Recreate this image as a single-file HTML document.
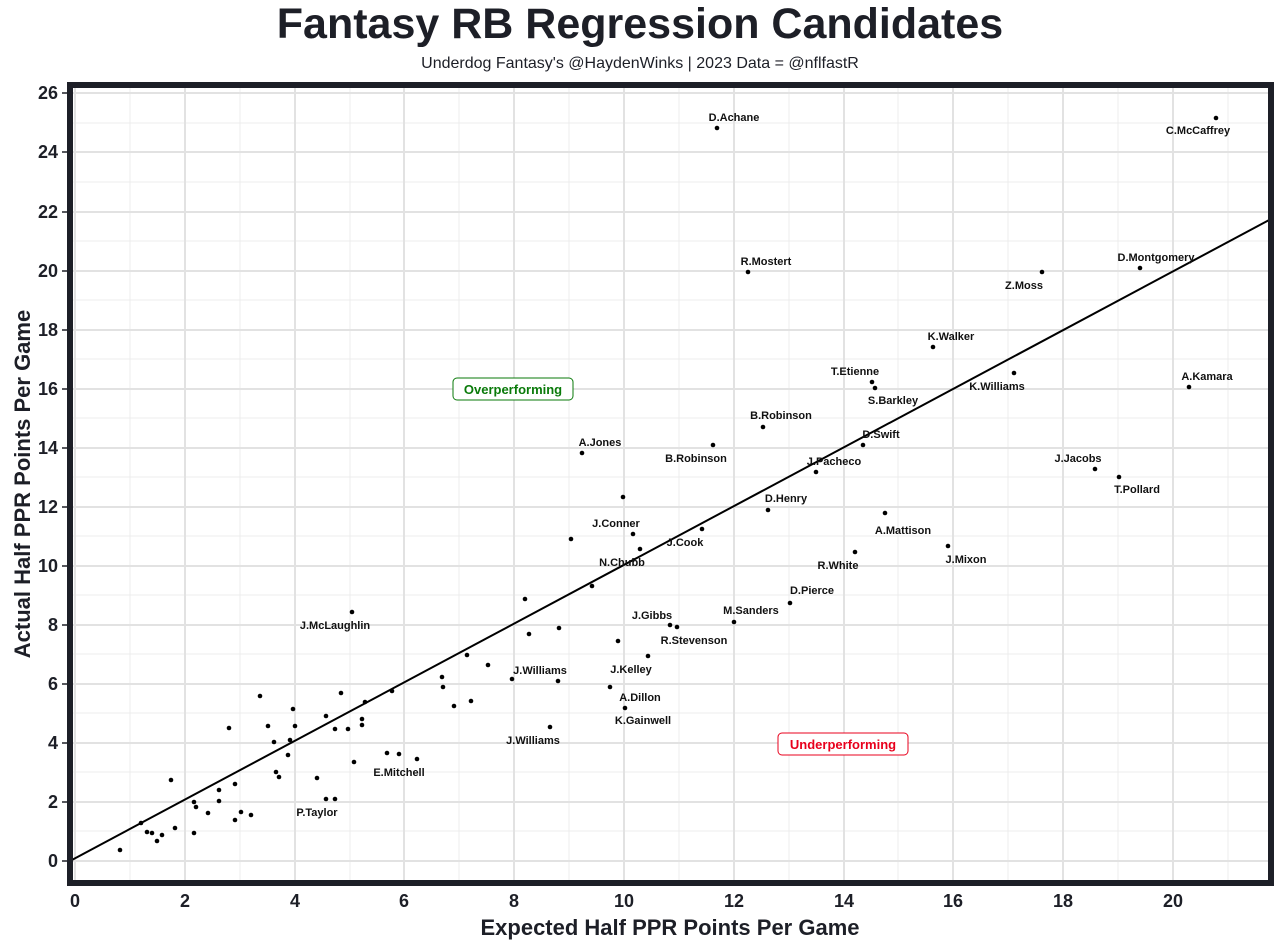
<!DOCTYPE html>
<html><head><meta charset="utf-8"><style>
html,body{margin:0;padding:0;background:#fff;}
svg{display:block;font-family:"Liberation Sans",Arial,sans-serif;}
</style></head><body>
<svg width="1280" height="949" viewBox="0 0 1280 949" xmlns="http://www.w3.org/2000/svg">
<rect width="1280" height="949" fill="#fff"/>
<text x="640" y="38" text-anchor="middle" font-size="43" font-weight="bold" fill="#1d1f27">Fantasy RB Regression Candidates</text>
<text x="640" y="68" text-anchor="middle" font-size="16" fill="#1d1f27">Underdog Fantasy's @HaydenWinks | 2023 Data = @nflfastR</text>
<g stroke="#ececec" stroke-width="1">
<line x1="130" y1="85" x2="130" y2="883"/><line x1="240" y1="85" x2="240" y2="883"/><line x1="350" y1="85" x2="350" y2="883"/><line x1="459" y1="85" x2="459" y2="883"/><line x1="569" y1="85" x2="569" y2="883"/><line x1="679" y1="85" x2="679" y2="883"/><line x1="789" y1="85" x2="789" y2="883"/><line x1="898" y1="85" x2="898" y2="883"/><line x1="1008" y1="85" x2="1008" y2="883"/><line x1="1118" y1="85" x2="1118" y2="883"/><line x1="1228" y1="85" x2="1228" y2="883"/>
<line x1="70" y1="831" x2="1271" y2="831"/><line x1="70" y1="772" x2="1271" y2="772"/><line x1="70" y1="713" x2="1271" y2="713"/><line x1="70" y1="654" x2="1271" y2="654"/><line x1="70" y1="595" x2="1271" y2="595"/><line x1="70" y1="536" x2="1271" y2="536"/><line x1="70" y1="477" x2="1271" y2="477"/><line x1="70" y1="418" x2="1271" y2="418"/><line x1="70" y1="359" x2="1271" y2="359"/><line x1="70" y1="300" x2="1271" y2="300"/><line x1="70" y1="241" x2="1271" y2="241"/><line x1="70" y1="182" x2="1271" y2="182"/><line x1="70" y1="123" x2="1271" y2="123"/>
</g>
<g stroke="#e2e2e2" stroke-width="2">
<line x1="75" y1="85" x2="75" y2="883"/><line x1="185" y1="85" x2="185" y2="883"/><line x1="295" y1="85" x2="295" y2="883"/><line x1="404" y1="85" x2="404" y2="883"/><line x1="514" y1="85" x2="514" y2="883"/><line x1="624" y1="85" x2="624" y2="883"/><line x1="734" y1="85" x2="734" y2="883"/><line x1="844" y1="85" x2="844" y2="883"/><line x1="953" y1="85" x2="953" y2="883"/><line x1="1063" y1="85" x2="1063" y2="883"/><line x1="1173" y1="85" x2="1173" y2="883"/>
<line x1="70" y1="861" x2="1271" y2="861"/><line x1="70" y1="802" x2="1271" y2="802"/><line x1="70" y1="743" x2="1271" y2="743"/><line x1="70" y1="684" x2="1271" y2="684"/><line x1="70" y1="625" x2="1271" y2="625"/><line x1="70" y1="566" x2="1271" y2="566"/><line x1="70" y1="507" x2="1271" y2="507"/><line x1="70" y1="448" x2="1271" y2="448"/><line x1="70" y1="389" x2="1271" y2="389"/><line x1="70" y1="330" x2="1271" y2="330"/><line x1="70" y1="271" x2="1271" y2="271"/><line x1="70" y1="212" x2="1271" y2="212"/><line x1="70" y1="152" x2="1271" y2="152"/><line x1="70" y1="93" x2="1271" y2="93"/>
</g>
<line x1="70" y1="861" x2="1271" y2="219" stroke="#000" stroke-width="2"/>
<g fill="#000">
<circle cx="120" cy="850" r="2.3"/><circle cx="141" cy="823" r="2.3"/><circle cx="147" cy="832" r="2.3"/><circle cx="152" cy="833" r="2.3"/><circle cx="157" cy="841" r="2.3"/><circle cx="162" cy="835" r="2.3"/><circle cx="175" cy="828" r="2.3"/><circle cx="171" cy="780" r="2.3"/><circle cx="194" cy="802" r="2.3"/><circle cx="194" cy="833" r="2.3"/><circle cx="196" cy="807" r="2.3"/><circle cx="208" cy="813" r="2.3"/><circle cx="219" cy="801" r="2.3"/><circle cx="219" cy="790" r="2.3"/><circle cx="229" cy="728" r="2.3"/><circle cx="235" cy="784" r="2.3"/><circle cx="235" cy="820" r="2.3"/><circle cx="241" cy="812" r="2.3"/><circle cx="251" cy="815" r="2.3"/><circle cx="260" cy="696" r="2.3"/><circle cx="268" cy="726" r="2.3"/><circle cx="274" cy="742" r="2.3"/><circle cx="276" cy="772" r="2.3"/><circle cx="279" cy="777" r="2.3"/><circle cx="288" cy="755" r="2.3"/><circle cx="290" cy="740" r="2.3"/><circle cx="293" cy="709" r="2.3"/><circle cx="295" cy="726" r="2.3"/><circle cx="317" cy="778" r="2.3"/><circle cx="326" cy="799" r="2.3"/><circle cx="326" cy="716" r="2.3"/><circle cx="335" cy="729" r="2.3"/><circle cx="335" cy="799" r="2.3"/><circle cx="341" cy="693" r="2.3"/><circle cx="348" cy="729" r="2.3"/><circle cx="362" cy="719" r="2.3"/><circle cx="362" cy="725" r="2.3"/><circle cx="365" cy="702" r="2.3"/><circle cx="352" cy="612" r="2.3"/><circle cx="354" cy="762" r="2.3"/><circle cx="392" cy="691" r="2.3"/><circle cx="387" cy="753" r="2.3"/><circle cx="399" cy="754" r="2.3"/><circle cx="417" cy="759" r="2.3"/><circle cx="442" cy="677" r="2.3"/><circle cx="443" cy="687" r="2.3"/><circle cx="454" cy="706" r="2.3"/><circle cx="467" cy="655" r="2.3"/><circle cx="471" cy="701" r="2.3"/><circle cx="488" cy="665" r="2.3"/><circle cx="512" cy="679" r="2.3"/><circle cx="525" cy="599" r="2.3"/><circle cx="529" cy="634" r="2.3"/><circle cx="558" cy="681" r="2.3"/><circle cx="559" cy="628" r="2.3"/><circle cx="550" cy="727" r="2.3"/><circle cx="571" cy="539" r="2.3"/><circle cx="592" cy="586" r="2.3"/><circle cx="582" cy="453" r="2.3"/><circle cx="610" cy="687" r="2.3"/><circle cx="618" cy="641" r="2.3"/><circle cx="623" cy="497" r="2.3"/><circle cx="625" cy="708" r="2.3"/><circle cx="633" cy="534" r="2.3"/><circle cx="640" cy="549" r="2.3"/><circle cx="648" cy="656" r="2.3"/><circle cx="670" cy="625" r="2.3"/><circle cx="677" cy="627" r="2.3"/><circle cx="702" cy="529" r="2.3"/><circle cx="713" cy="445" r="2.3"/><circle cx="717" cy="128" r="2.3"/><circle cx="734" cy="622" r="2.3"/><circle cx="748" cy="272" r="2.3"/><circle cx="763" cy="427" r="2.3"/><circle cx="768" cy="510" r="2.3"/><circle cx="790" cy="603" r="2.3"/><circle cx="816" cy="472" r="2.3"/><circle cx="855" cy="552" r="2.3"/><circle cx="863" cy="445" r="2.3"/><circle cx="872" cy="382" r="2.3"/><circle cx="875" cy="388" r="2.3"/><circle cx="885" cy="513" r="2.3"/><circle cx="933" cy="347" r="2.3"/><circle cx="948" cy="546" r="2.3"/><circle cx="1014" cy="373" r="2.3"/><circle cx="1042" cy="272" r="2.3"/><circle cx="1095" cy="469" r="2.3"/><circle cx="1119" cy="477" r="2.3"/><circle cx="1140" cy="268" r="2.3"/><circle cx="1189" cy="387" r="2.3"/><circle cx="1216" cy="118" r="2.3"/>
</g>
<g font-size="11" font-weight="bold" fill="#111" text-anchor="middle">
<text x="734" y="121">D.Achane</text><text x="1198" y="134">C.McCaffrey</text><text x="766" y="265">R.Mostert</text><text x="1024" y="289">Z.Moss</text><text x="1156" y="261">D.Montgomery</text><text x="951" y="340">K.Walker</text><text x="855" y="375">T.Etienne</text><text x="893" y="404">S.Barkley</text><text x="997" y="390">K.Williams</text><text x="1207" y="380">A.Kamara</text><text x="781" y="419">B.Robinson</text><text x="696" y="462">B.Robinson</text><text x="881" y="438">D.Swift</text><text x="600" y="446">A.Jones</text><text x="834" y="465">J.Pacheco</text><text x="1078" y="462">J.Jacobs</text><text x="1137" y="493">T.Pollard</text><text x="786" y="502">D.Henry</text><text x="903" y="534">A.Mattison</text><text x="838" y="569">R.White</text><text x="966" y="563">J.Mixon</text><text x="812" y="594">D.Pierce</text><text x="751" y="614">M.Sanders</text><text x="616" y="527">J.Conner</text><text x="685" y="546">J.Cook</text><text x="622" y="566">N.Chubb</text><text x="652" y="619">J.Gibbs</text><text x="694" y="644">R.Stevenson</text><text x="631" y="673">J.Kelley</text><text x="640" y="701">A.Dillon</text><text x="643" y="724">K.Gainwell</text><text x="540" y="674">J.Williams</text><text x="533" y="744">J.Williams</text><text x="335" y="629">J.McLaughlin</text><text x="399" y="776">E.Mitchell</text><text x="317" y="816">P.Taylor</text>
</g>
<rect x="453" y="378" width="120" height="22" rx="4" fill="#fff" stroke="#0a7a0a" stroke-width="1"/>
<text x="513" y="394" text-anchor="middle" font-size="13" font-weight="bold" fill="#0a7a0a">Overperforming</text>
<rect x="778" y="733" width="130" height="22" rx="4" fill="#fff" stroke="#e8001c" stroke-width="1"/>
<text x="843" y="749" text-anchor="middle" font-size="13" font-weight="bold" fill="#e8001c">Underperforming</text>
<rect x="70" y="85" width="1201" height="798" fill="none" stroke="#1d1f27" stroke-width="6"/>
<g stroke="#1d1f27" stroke-width="1.5">
<line x1="62" y1="861" x2="67" y2="861"/><line x1="62" y1="802" x2="67" y2="802"/><line x1="62" y1="743" x2="67" y2="743"/><line x1="62" y1="684" x2="67" y2="684"/><line x1="62" y1="625" x2="67" y2="625"/><line x1="62" y1="566" x2="67" y2="566"/><line x1="62" y1="507" x2="67" y2="507"/><line x1="62" y1="448" x2="67" y2="448"/><line x1="62" y1="389" x2="67" y2="389"/><line x1="62" y1="330" x2="67" y2="330"/><line x1="62" y1="271" x2="67" y2="271"/><line x1="62" y1="212" x2="67" y2="212"/><line x1="62" y1="152" x2="67" y2="152"/><line x1="62" y1="93" x2="67" y2="93"/>
</g>
<g font-size="18" font-weight="bold" fill="#1d1f27" text-anchor="end">
<text x="58" y="867">0</text><text x="58" y="808">2</text><text x="58" y="749">4</text><text x="58" y="690">6</text><text x="58" y="631">8</text><text x="58" y="572">10</text><text x="58" y="513">12</text><text x="58" y="454">14</text><text x="58" y="395">16</text><text x="58" y="336">18</text><text x="58" y="277">20</text><text x="58" y="218">22</text><text x="58" y="158">24</text><text x="58" y="99">26</text>
</g>
<g font-size="18" font-weight="bold" fill="#1d1f27" text-anchor="middle">
<text x="75" y="907">0</text><text x="185" y="907">2</text><text x="295" y="907">4</text><text x="404" y="907">6</text><text x="514" y="907">8</text><text x="624" y="907">10</text><text x="734" y="907">12</text><text x="844" y="907">14</text><text x="953" y="907">16</text><text x="1063" y="907">18</text><text x="1173" y="907">20</text>
</g>
<text x="670" y="935" text-anchor="middle" font-size="22" font-weight="bold" fill="#1d1f27">Expected Half PPR Points Per Game</text>
<text transform="translate(30,484) rotate(-90)" text-anchor="middle" font-size="22" font-weight="bold" fill="#1d1f27">Actual Half PPR Points Per Game</text>
</svg>
</body></html>
